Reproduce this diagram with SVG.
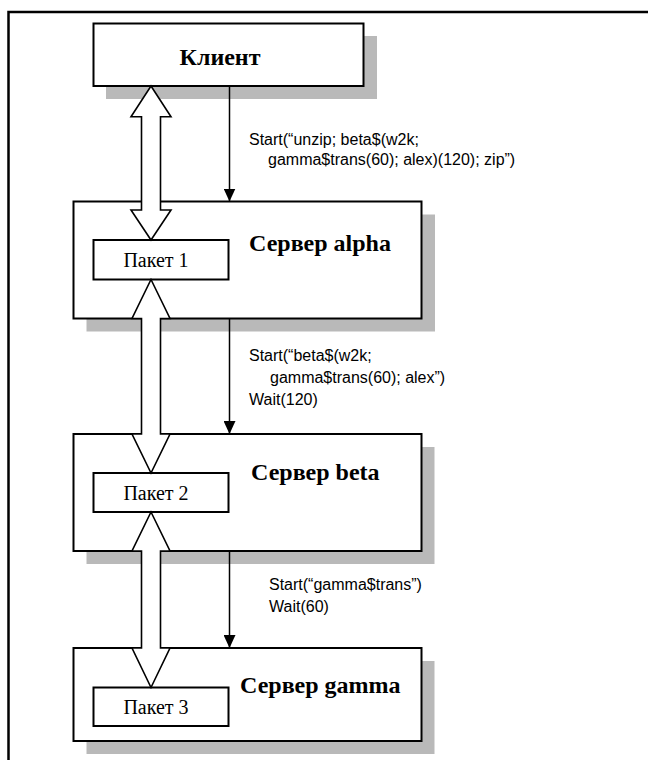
<svg xmlns="http://www.w3.org/2000/svg" width="648" height="760" viewBox="0 0 648 760">
  <style>
    .shadow { fill: #b9b9b9; }
    .box { fill: #ffffff; stroke: #000000; stroke-width: 2; }
    .pkg { fill: #ffffff; stroke: #000000; stroke-width: 2; }
    .dbl { fill: #ffffff; stroke: #000000; stroke-width: 1.6; stroke-linejoin: miter; }
    .thin { fill: none; stroke: #000000; stroke-width: 1.5; marker-end: url(#head); }
    .title { font-family: "Liberation Serif", "Times New Roman", serif; font-weight: bold; font-size: 24px; fill: #000000; }
    .pkgtext { font-family: "Liberation Serif", "Times New Roman", serif; font-size: 20px; fill: #000000; }
    .label { font-family: "Liberation Sans", Arial, sans-serif; font-size: 16px; fill: #000000; }
  </style>
  <defs>
    <!-- filled arrowhead; tip sits on the end of the line -->
    <marker id="head" viewBox="0 0 13 12" refX="13" refY="6" markerWidth="13" markerHeight="12" markerUnits="userSpaceOnUse" orient="auto">
      <path d="M0,0 L13,6 L0,12 Z" fill="#000000"/>
    </marker>
  </defs>

  <!-- page frame (left and top rules) -->
  <path d="M8.5,760 V12 H648" fill="none" stroke="#000000" stroke-width="2.5"/>

  <!-- Client -->
  <g id="client">
    <rect class="shadow" x="106" y="36" width="271" height="63"/>
    <rect class="box" x="93.5" y="23.5" width="270" height="62.5"/>
    <text class="title" x="220" y="65" text-anchor="middle">Клиент</text>
  </g>

  <!-- Server alpha -->
  <g id="server-alpha">
    <rect class="shadow" x="86.5" y="214.5" width="348.5" height="117"/>
    <rect class="box" x="73.5" y="201.5" width="348" height="117"/>
    <text class="title" x="249" y="251">Сервер alpha</text>
    <g id="packet-1">
      <rect class="pkg" x="93.5" y="240" width="135" height="39.5"/>
      <text class="pkgtext" x="156" y="267" text-anchor="middle">Пакет 1</text>
    </g>
  </g>

  <!-- Server beta -->
  <g id="server-beta">
    <rect class="shadow" x="86.5" y="447" width="348" height="117"/>
    <rect class="box" x="73.5" y="434" width="348" height="117"/>
    <text class="title" x="251" y="480">Сервер beta</text>
    <g id="packet-2">
      <rect class="pkg" x="93.5" y="473" width="135" height="39"/>
      <text class="pkgtext" x="156" y="500" text-anchor="middle">Пакет 2</text>
    </g>
  </g>

  <!-- Server gamma -->
  <g id="server-gamma">
    <rect class="shadow" x="86.5" y="661" width="348" height="93"/>
    <rect class="box" x="73.5" y="648" width="348" height="93"/>
    <text class="title" x="240" y="693">Сервер gamma</text>
    <g id="packet-3">
      <rect class="pkg" x="93.5" y="687.5" width="135" height="38.5"/>
      <text class="pkgtext" x="156" y="714" text-anchor="middle">Пакет 3</text>
    </g>
  </g>

  <!-- connectors -->
  <g id="connectors">
    <!-- two-way transfer arrows -->
    <polygon class="dbl" points="151,86 171,116.7 160.5,116.7 160.5,210 171,210 151,240 131,210 141.5,210 141.5,116.7 131,116.7"/>
    <polygon class="dbl" points="151,279.5 170,318.5 160.5,318.5 160.5,434 170,434 151,473 132,434 141.5,434 141.5,318.5 132,318.5"/>
    <polygon class="dbl" points="151,512 170,551 160.5,551 160.5,648 170,648 151,687.5 132,648 141.5,648 141.5,551 132,551"/>

    <!-- call arrows -->
    <line class="thin" x1="229.5" y1="86" x2="229.5" y2="201.5"/>
    <line class="thin" x1="229.5" y1="318.5" x2="229.5" y2="434"/>
    <line class="thin" x1="229.5" y1="551" x2="229.5" y2="648"/>

    <text class="label" x="249" y="145">Start(“unzip; beta$(w2k;</text>
    <text class="label" x="268" y="165">gamma$trans(60); alex)(120); zip”)</text>

    <text class="label" x="249" y="361">Start(“beta$(w2k;</text>
    <text class="label" x="270" y="383">gamma$trans(60); alex”)</text>
    <text class="label" x="249" y="405">Wait(120)</text>

    <text class="label" x="269" y="590">Start(“gamma$trans”)</text>
    <text class="label" x="269" y="612">Wait(60)</text>
  </g>
</svg>
